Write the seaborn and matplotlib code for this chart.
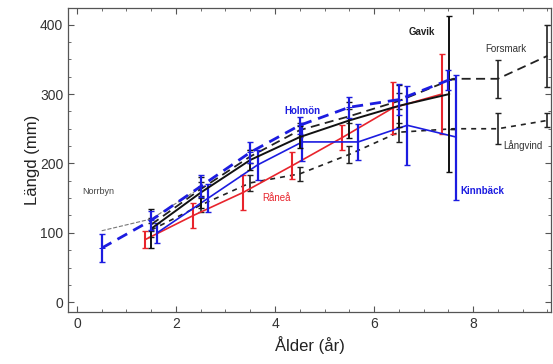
import matplotlib
matplotlib.use("Agg")
import matplotlib.pyplot as plt
from matplotlib.ticker import AutoMinorLocator
import seaborn as sns
import numpy as np

# Mean length at age per site, with half-width of the error bars
holmon_age = [0.5, 1.5, 2.5, 3.5, 4.5, 5.5, 6.5, 7.5]
holmon_len = [78, 118, 167, 216, 255, 281, 292, 320]
holmon_err = [20, 14, 16, 15, 12, 15, 22, 14]

gavik_age = [1.5, 2.5, 3.5, 4.5, 5.5, 6.5, 7.52]
gavik_len = [106, 158, 205, 238, 262, 283, 300]
gavik_err = [28, 22, 14, 16, 26, 30, 112]

kinnback_age = [1.62, 2.65, 3.65, 4.55, 5.68, 6.67, 7.66]
kinnback_len = [100, 150, 198, 231, 231, 255, 238]
kinnback_err = [14, 20, 22, 28, 26, 57, 90]

ranea_age = [1.37, 2.35, 3.35, 4.35, 5.35, 6.38, 7.37]
ranea_len = [90, 125, 158, 197, 237, 280, 300]
ranea_err = [12, 18, 25, 20, 18, 37, 58]

forsmark_age = [1.5, 2.5, 3.5, 4.5, 5.5, 6.5, 7.6, 8.5, 9.5]
forsmark_len = [112, 163, 210, 248, 268, 290, 322, 322, 355]
forsmark_err = [10, 10, 10, 10, 10, 12, 0, 27, 45]

langvind_age = [1.5, 2.5, 3.5, 4.5, 5.5, 6.5, 7.6, 8.5, 9.5]
langvind_len = [104, 140, 172, 185, 213, 245, 250, 250, 262]
langvind_err = [10, 10, 12, 10, 12, 14, 0, 22, 10]

norrbyn_age = [0.5, 1.5, 2.5]
norrbyn_len = [103, 120, 165]

RED = "#e8242c"
BLUE = "#1c1ce0"

sns.set_theme(style="ticks")
plt.rcParams["font.family"] = ["Liberation Sans", "DejaVu Sans"]

fig, ax = plt.subplots(figsize=(5.53, 3.64), dpi=100)
fig.subplots_adjust(left=0.123, right=0.997, top=0.978, bottom=0.143)


def series(age, length, err, color, ls, lw, elw, marker=None):
    sns.lineplot(x=age, y=length, ax=ax, color=color, linestyle=ls,
                 linewidth=lw, marker=marker, markersize=4,
                 markeredgecolor=color, sort=False, legend=False)
    if err is not None:
        ax.errorbar(age, length, yerr=err, fmt="none", ecolor=color,
                    elinewidth=elw, capsize=2.2, capthick=1)


series(norrbyn_age, norrbyn_len, None, "#777777", "--", 0.8, 1)
series(langvind_age, langvind_len, langvind_err, "#222222", (0, (3, 3)), 1.2, 1.2)
series(forsmark_age, forsmark_len, forsmark_err, "#222222", (0, (5, 3)), 1.3, 1.2)
series(ranea_age, ranea_len, ranea_err, RED, "-", 1.2, 1.5)
series(kinnback_age, kinnback_len, kinnback_err, BLUE, "-", 1.2, 1.6)
series(gavik_age, gavik_len, gavik_err, "#111111", "-", 1.4, 1.4)
series(holmon_age, holmon_len, holmon_err, BLUE, (0, (4, 2.5)), 2.0, 1.6, marker="+")

# Site labels
ax.text(0.1, 160, "Norrbyn", color="#444444", fontsize=6.5, ha="left", va="center")
ax.text(3.75, 150, "Råneå", color=RED, fontsize=7, ha="left", va="center")
ax.text(4.18, 276, "Holmön", color=BLUE, fontsize=7, ha="left", va="center", fontweight="bold")
ax.text(6.7, 390, "Gavik", color="#222222", fontsize=7, ha="left", va="center", fontweight="bold")
ax.text(8.25, 365, "Forsmark", color="#333333", fontsize=7, ha="left", va="center")
ax.text(8.6, 226, "Långvind", color="#333333", fontsize=7, ha="left", va="center")
ax.text(7.75, 160, "Kinnbäck", color=BLUE, fontsize=7, ha="left", va="center", fontweight="bold")

ax.set_xlim(-0.18, 9.58)
ax.set_ylim(-14, 424)
ax.set_xticks([0, 2, 4, 6, 8])
ax.set_yticks([0, 100, 200, 300, 400])
ax.xaxis.set_minor_locator(AutoMinorLocator(4))
ax.yaxis.set_minor_locator(AutoMinorLocator(4))
ax.tick_params(which="both", direction="in", top=True, right=True,
               colors="#555555", labelcolor="#333333", labelsize=10)
ax.tick_params(which="major", length=4, width=0.8)
ax.tick_params(which="minor", length=2, width=0.6)
for s in ax.spines.values():
    s.set_color("#555555")
    s.set_linewidth(0.9)

ax.set_xlabel("Ålder (år)", fontsize=12, color="#222222", labelpad=4)
ax.set_ylabel("Längd (mm)", fontsize=12, color="#222222", labelpad=0)

fig.savefig("out.png", dpi=100)
